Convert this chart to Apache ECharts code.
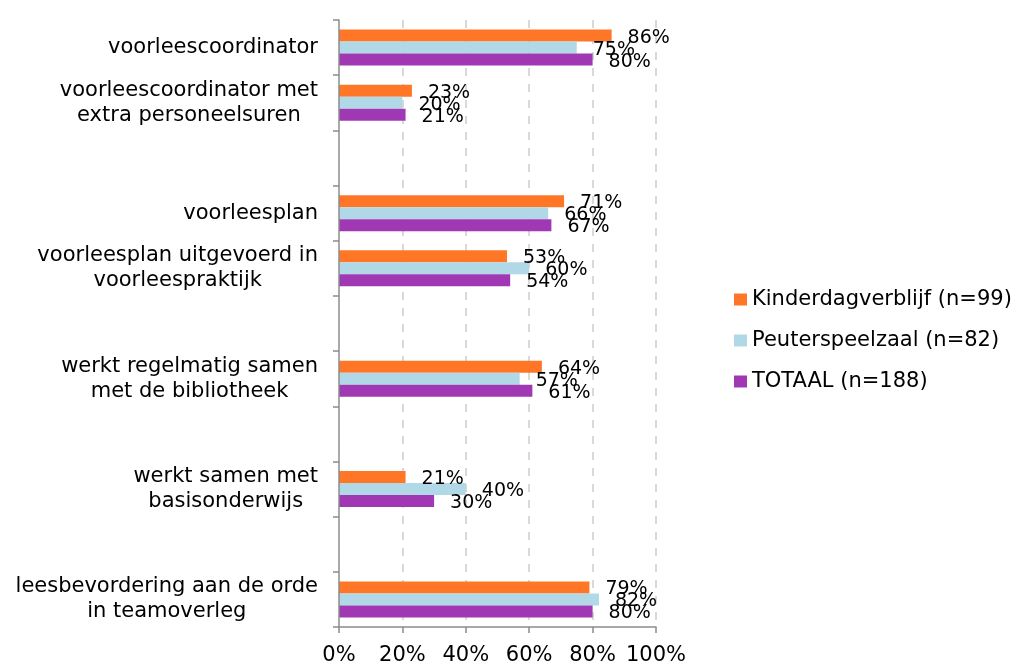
<!DOCTYPE html>
<html>
<head>
<meta charset="utf-8">
<script src="https://cdn.jsdelivr.net/npm/echarts@6/dist/echarts.min.js"></script>
<style>
  html, body { margin: 0; padding: 0; background: #fff; }
  #chart { width: 1015px; height: 664px; }
</style>
</head>
<body>
<div id="chart"></div>
<script>
var categories = [
    'voorleescoordinator',
    'voorleescoordinator met\nextra personeelsuren',
    '',
    'voorleesplan',
    'voorleesplan uitgevoerd in\nvoorleespraktijk',
    '',
    'werkt regelmatig samen\nmet de bibliotheek',
    '',
    'werkt samen met\nbasisonderwijs',
    '',
    'leesbevordering aan de orde\nin teamoverleg'
];
var seriesNames = ['Kinderdagverblijf (n=99)', 'Peuterspeelzaal (n=82)', 'TOTAAL (n=188)'];
var kinderdag = [86, 23, null, 71, 53, null, 64, null, 21, null, 79];
var peuter = [75, 20, null, 66, 60, null, 57, null, 40, null, 82];
var totaal = [80, 21, null, 67, 54, null, 61, null, 30, null, 80];
var xTicks = [0, 20, 40, 60, 80, 100];

var colors = ['#FF7626', '#B0D8E6', '#A038B3'];
var fontFamily = '"DejaVu Sans", Verdana, sans-serif';
var textColor = '#000';
var axisColor = '#8c8c8c';

var chart = echarts.init(document.getElementById('chart'));

function makeSeries(name, data, color) {
    return {
        name: name,
        type: 'bar',
        data: data,
        barWidth: 12,
        barGap: '0%',
        itemStyle: { color: color },
        label: {
            show: true,
            position: 'right',
            distance: 16,
            formatter: '{c}%',
            fontFamily: fontFamily,
            fontSize: 19,
            color: textColor,
            offset: [0, 2]
        }
    };
}

var option = {
    animation: false,
    textStyle: { fontFamily: fontFamily },
    grid: { left: 339, right: 359, top: 20, bottom: 37, outerBoundsMode: 'none' },
    legend: {
        orient: 'vertical',
        left: 729,
        top: 284,
        itemWidth: 13,
        itemHeight: 12,
        itemGap: 20,
        icon: 'rect',
        data: seriesNames,
        textStyle: { fontFamily: fontFamily, fontSize: 21, color: textColor }
    },
    xAxis: {
        type: 'value',
        min: xTicks[0],
        max: xTicks[xTicks.length - 1],
        interval: 20,
        axisLine: { show: true, lineStyle: { color: axisColor, width: 1.5 } },
        axisTick: { show: true, length: 6, lineStyle: { color: axisColor, width: 1.5 } },
        axisLabel: {
            formatter: '{value}%',
            fontFamily: fontFamily,
            fontSize: 21,
            color: textColor,
            margin: 18
        },
        splitLine: {
            show: true,
            showMinLine: false,
            lineStyle: { color: '#d9d9d9', width: 2, type: [8, 8] }
        }
    },
    yAxis: {
        type: 'category',
        inverse: true,
        data: categories,
        z: 5,
        axisLine: { show: true, onZero: false, lineStyle: { color: axisColor, width: 1.5 } },
        axisTick: { show: true, length: 6, lineStyle: { color: axisColor, width: 1.5 } },
        axisLabel: {
            interval: 0,
            margin: 21,
            formatter: function (value) {
                return value.split('\n').map(function (line) {
                    return '{c|' + line + '}';
                }).join('\n');
            },
            rich: {
                c: {
                    align: 'center',
                    fontFamily: fontFamily,
                    fontSize: 21,
                    lineHeight: 25,
                    color: textColor
                }
            }
        },
        splitLine: { show: false }
    },
    series: [
        makeSeries(seriesNames[0], kinderdag, colors[0]),
        makeSeries(seriesNames[1], peuter, colors[1]),
        makeSeries(seriesNames[2], totaal, colors[2])
    ]
};

chart.setOption(option);
</script>
</body>
</html>
